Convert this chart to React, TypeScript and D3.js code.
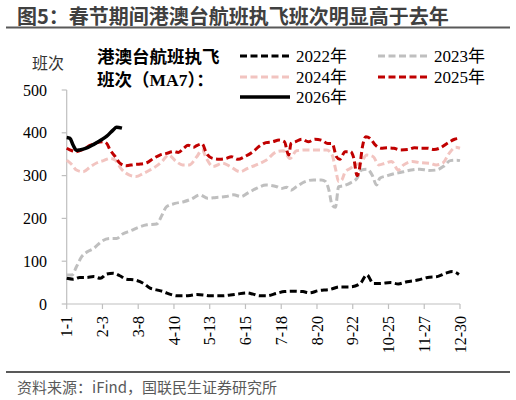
import * as d3 from "d3";

// day-of-year and MA7 flight counts
const days2022 = [1, 7, 13, 19, 26, 32, 38, 44, 50, 56, 64, 72, 78, 84, 90, 96, 103, 109, 115, 121, 127, 133, 139, 145, 152, 158, 167, 173, 179, 185, 195, 202, 210, 219, 225, 233, 244, 253, 263, 272, 278, 284, 290, 300, 307, 315, 325, 334, 343, 351, 357, 363];
const vals2022 = [60, 58, 62, 62, 64, 60, 70, 72, 66, 58, 56, 48, 37, 33, 29, 23, 19, 19, 20, 22, 21, 19, 19, 19, 21, 23, 26, 23, 19, 19, 25, 29, 30, 29, 26, 31, 34, 40, 40, 48, 68, 48, 48, 50, 47, 52, 56, 62, 64, 72, 76, 69];

const days2023 = [1, 6, 10, 15, 20, 26, 33, 41, 47, 53, 60, 67, 75, 84, 89, 93, 101, 109, 116, 124, 131, 139, 148, 155, 162, 168, 176, 185, 195, 199, 204, 208, 213, 221, 229, 236, 240, 243, 246, 249, 252, 256, 263, 269, 273, 278, 283, 287, 290, 296, 304, 312, 319, 327, 335, 342, 349, 355, 361, 364];
const vals2023 = [68, 68, 87, 111, 122, 130, 146, 153, 153, 164, 171, 179, 185, 187, 208, 227, 235, 239, 245, 255, 247, 249, 251, 255, 251, 259, 270, 278, 274, 270, 273, 266, 274, 286, 290, 290, 286, 266, 231, 226, 274, 276, 283, 294, 313, 315, 301, 278, 294, 299, 305, 309, 313, 315, 312, 313, 322, 335, 336, 335];

const days2024 = [1, 6, 10, 16, 23, 29, 35, 41, 46, 51, 59, 65, 71, 77, 83, 89, 95, 102, 108, 114, 121, 126, 130, 136, 145, 152, 161, 168, 176, 185, 195, 201, 207, 213, 222, 231, 241, 246, 249, 252, 255, 258, 263, 267, 272, 278, 284, 289, 295, 301, 307, 312, 320, 328, 336, 342, 348, 354, 360, 364];
const vals2024 = [336, 325, 313, 309, 321, 330, 335, 340, 336, 317, 301, 298, 304, 312, 321, 333, 348, 333, 325, 325, 344, 360, 340, 321, 329, 321, 309, 317, 325, 336, 356, 358, 340, 358, 360, 360, 360, 348, 317, 286, 290, 309, 317, 325, 329, 348, 344, 325, 329, 333, 313, 325, 333, 330, 329, 325, 329, 352, 366, 364];

const days2025 = [1, 6, 10, 16, 23, 29, 35, 38, 41, 46, 50, 56, 63, 69, 75, 81, 87, 93, 100, 104, 109, 113, 118, 121, 126, 130, 136, 142, 148, 153, 159, 165, 173, 179, 185, 191, 197, 202, 205, 206, 208, 212, 218, 224, 230, 236, 242, 246, 250, 253, 258, 263, 266, 269, 271, 274, 277, 281, 286, 291, 297, 303, 309, 316, 322, 328, 334, 340, 346, 352, 359, 363];
const vals2025 = [364, 358, 356, 361, 371, 377, 379, 375, 360, 344, 329, 323, 326, 327, 330, 340, 348, 352, 356, 354, 364, 371, 366, 370, 374, 352, 340, 338, 340, 344, 338, 344, 356, 369, 377, 379, 383, 379, 352, 348, 375, 379, 385, 379, 385, 383, 375, 375, 344, 338, 356, 356, 340, 300, 313, 368, 391, 387, 371, 364, 365, 364, 360, 361, 365, 364, 364, 361, 365, 375, 385, 387];

const days2026 = [1, 4, 7, 10, 13, 19, 26, 32, 38, 44, 47, 52];
const vals2026 = [389, 387, 371, 359, 360, 364, 373, 382, 392, 407, 413, 411];

const yTicks = [0, 100, 200, 300, 400, 500];
const xTickDays = [1, 34, 67, 100, 133, 166, 199, 232, 265, 298, 331, 364];
const xTickLabels = ["1-1", "2-3", "3-8", "4-10", "5-13", "6-15", "7-18", "8-20", "9-22", "10-25", "11-27", "12-30"];

const title = "图5：春节期间港澳台航班执飞班次明显高于去年";
const source = "资料来源：iFind，国联民生证券研究所";

const series = [
  { name: "2022年", days: days2022, vals: vals2022, color: "#000000", dash: "7,3.5", width: 3 },
  { name: "2023年", days: days2023, vals: vals2023, color: "#bfbfbf", dash: "7,3.5", width: 3 },
  { name: "2024年", days: days2024, vals: vals2024, color: "#f2c4c0", dash: "7,3.5", width: 3 },
  { name: "2025年", days: days2025, vals: vals2025, color: "#c00000", dash: "7,3.5", width: 3 },
  { name: "2026年", days: days2026, vals: vals2026, color: "#000000", dash: "none", width: 3.5 },
];

const SERIF = "'Liberation Serif', 'Noto Sans CJK SC', serif";
const SANS = "'Noto Sans CJK SC', sans-serif";

export default function App() {
  const x = d3.scaleLinear().domain([1, 364]).range([66.7, 460]);
  const y = d3.scaleLinear().domain([0, 500]).range([304, 90]);

  const line = d3
    .line<[number, number]>()
    .x((d) => x(d[0]))
    .y((d) => y(d[1]))
    .curve(d3.curveMonotoneX);

  // legend slots: [lineX, rowY]
  const legendPos = [
    [240, 56],
    [378, 56],
    [240, 77],
    [378, 77],
    [240, 97],
  ];

  return (
    <svg width={516} height={400} style={{ position: "absolute", left: 0, top: 0, background: "#fff" }}>
      <text x={17} y={24} fontFamily={SANS} fontWeight="bold" fontSize={20} fill="#404040">
        {title}
      </text>
      <line x1={6} x2={510} y1={27.5} y2={27.5} stroke="#595959" strokeWidth={2} />

      <text x={32} y={69} fontFamily={SANS} fontSize={16} fill="#333">班次</text>

      {/* legend */}
      <text x={97} y={63} fontFamily={SERIF} fontWeight="bold" fontSize={17.5} fill="#000">港澳台航班执飞</text>
      <text x={97} y={86} fontFamily={SERIF} fontWeight="bold" fontSize={17.5} fill="#000">班次（MA7）：</text>
      {series.map((s, i) => {
        const [lx, ly] = legendPos[i];
        return (
          <g key={s.name}>
            <line x1={lx} x2={lx + 50} y1={ly} y2={ly} stroke={s.color} strokeWidth={s.width} strokeDasharray={s.dash} />
            <text x={lx + 56} y={ly + 6} fontFamily={SERIF} fontSize={17} fill="#000">{s.name}</text>
          </g>
        );
      })}

      {/* axes */}
      <line x1={x(1)} x2={x(1)} y1={y(500)} y2={y(0)} stroke="#bfbfbf" strokeWidth={1.2} />
      <line x1={x(1)} x2={x(364)} y1={y(0)} y2={y(0)} stroke="#bfbfbf" strokeWidth={1.2} />
      {yTicks.map((t) => (
        <g key={t}>
          <line x1={x(1) - 5} x2={x(1)} y1={y(t)} y2={y(t)} stroke="#bfbfbf" strokeWidth={1.2} />
          <text x={47} y={y(t)} dy="0.35em" textAnchor="end" fontFamily={SERIF} fontSize={16} fill="#000">{t}</text>
        </g>
      ))}
      {xTickDays.map((d, i) => (
        <g key={d}>
          <line x1={x(d)} x2={x(d)} y1={y(0)} y2={y(0) + 5} stroke="#bfbfbf" strokeWidth={1.2} />
          <text
            transform={`translate(${x(d)},316) rotate(-90)`}
            dy="0.35em"
            textAnchor="end"
            fontFamily={SERIF}
            fontSize={16}
            fill="#000"
          >
            {xTickLabels[i]}
          </text>
        </g>
      ))}

      {/* series */}
      {series.map((s) => (
        <path
          key={s.name}
          d={line(s.days.map((d, i) => [d, s.vals[i]] as [number, number])) || ""}
          fill="none"
          stroke={s.color}
          strokeWidth={s.width}
          strokeDasharray={s.dash}
        />
      ))}

      <line x1={6} x2={510} y1={372} y2={372} stroke="#595959" strokeWidth={2} />
      <text x={17} y={393} fontFamily={SANS} fontSize={15} fill="#595959">{source}</text>
    </svg>
  );
}
